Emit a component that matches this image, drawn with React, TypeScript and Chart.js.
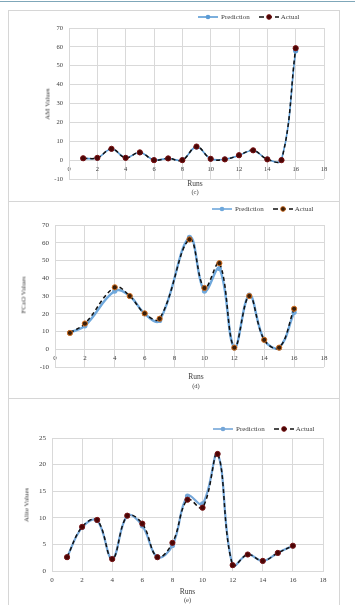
import React, { useEffect, useRef } from "react";
import { Chart, registerables } from "chart.js";

Chart.register(...registerables);

// ---------- data ----------
const runsAM = [1, 2, 3, 4, 5, 6, 7, 8, 9, 10, 11, 12, 13, 14, 15, 16];
const amPrediction = [0.9, 1.1, 5.9, 1.3, 4.0, 0.1, 0.9, 0.1, 7.0, 0.7, 0.5, 2.5, 5.1, 0.5, 0.1, 58.0];
const amActual = [1.0, 1.2, 6.0, 1.2, 4.1, 0.0, 0.9, 0.0, 7.2, 0.7, 0.4, 2.6, 5.2, 0.4, 0.0, 59.3];

const runsFCaO = [1, 2, 4, 5, 6, 7, 9, 10, 11, 12, 13, 14, 15, 16];
const fcaoPrediction = [9.4, 13.2, 32.8, 30.0, 20.0, 16.2, 63.0, 32.8, 45.5, 0.9, 30.5, 5.3, 0.9, 20.8];
const fcaoActual = [9.2, 14.5, 34.9, 30.0, 20.2, 17.2, 61.9, 34.5, 48.5, 0.9, 30.0, 5.3, 0.9, 22.8];

const runsAlite = [1, 2, 3, 4, 5, 6, 7, 8, 9, 10, 11, 12, 13, 14, 15, 16];
const alitePrediction = [2.6, 8.2, 9.5, 2.3, 10.4, 8.5, 2.6, 4.8, 14.1, 12.6, 22.0, 1.1, 3.1, 1.9, 3.4, 4.75];
const aliteActual = [2.6, 8.3, 9.6, 2.25, 10.4, 8.9, 2.6, 5.3, 13.4, 11.9, 22.0, 1.1, 3.1, 1.9, 3.4, 4.75];

const xMin = 0;
const xMax = 18;
const xStep = 2;

const seriesLabels = ["Prediction", "Actual"];

const FONT = "'Liberation Serif', 'Times New Roman', serif";
const GRID = "#d9d9d9";
const TEXT = "#404040";

type ChartCfg = {
  runs: number[];
  pred: number[];
  actual: number[];
  yMin: number;
  yMax: number;
  yStep: number;
  width: number;
  height: number;
  yWidth: number;
  pad: { left: number; right: number; top: number; bottom: number };
  predColor: string;
  predWidth: number;
  markerFill: string;
  markerBorder: string;
  tickSize: number;
};

function LineChart({ cfg, style }: { cfg: ChartCfg; style: React.CSSProperties }) {
  const ref = useRef<HTMLCanvasElement | null>(null);
  useEffect(() => {
    if (!ref.current) return;
    const toPts = (vals: number[]) => cfg.runs.map((r, i) => ({ x: r, y: vals[i] }));
    const chart = new Chart(ref.current, {
      type: "line",
      data: {
        datasets: [
          {
            label: seriesLabels[0],
            data: toPts(cfg.pred),
            borderColor: cfg.predColor,
            backgroundColor: cfg.predColor,
            borderWidth: cfg.predWidth,
            pointRadius: 2.6,
            pointBorderWidth: 0,
            pointBackgroundColor: cfg.predColor,
            tension: 0.4,
            order: 2,
          },
          {
            label: seriesLabels[1],
            data: toPts(cfg.actual),
            borderColor: "#111111",
            backgroundColor: cfg.markerFill,
            borderWidth: 1.5,
            borderDash: [4, 3],
            pointRadius: 2.6,
            pointBorderWidth: 1,
            pointBackgroundColor: cfg.markerFill,
            pointBorderColor: cfg.markerBorder,
            tension: 0.4,
            order: 1,
          },
        ],
      },
      options: {
        responsive: false,
        animation: false,
        devicePixelRatio: 1,
        layout: { padding: cfg.pad },
        plugins: { legend: { display: false }, tooltip: { enabled: false } },
        scales: {
          x: {
            type: "linear",
            position: { y: 0 } as any,
            min: xMin,
            max: xMax,
            afterFit: (s: any) => {
              s.height = 0;
            },
            ticks: {
              stepSize: xStep,
              autoSkip: false,
              maxRotation: 0,
              minRotation: 0,
              padding: 5,
              color: TEXT,
              font: { family: FONT, size: cfg.tickSize },
            },
            grid: { color: GRID, lineWidth: 1, drawTicks: false },
            border: { color: GRID, width: 1 },
          },
          y: {
            type: "linear",
            min: cfg.yMin,
            max: cfg.yMax,
            afterFit: (s: any) => {
              s.width = cfg.yWidth;
            },
            ticks: {
              stepSize: cfg.yStep,
              padding: 6,
              color: TEXT,
              font: { family: FONT, size: cfg.tickSize },
            },
            grid: { color: GRID, lineWidth: 1, drawTicks: false },
            border: { color: GRID, width: 1 },
          },
        },
      },
    });
    return () => chart.destroy();
  }, [cfg]);
  return <canvas ref={ref} width={cfg.width} height={cfg.height} style={{ position: "absolute", display: "block", ...style }} />;
}

function Legend({ left, top, predColor, markerFill, markerBorder, dashColor }: any) {
  return (
    <div
      style={{
        position: "absolute",
        left,
        top,
        transform: "translateY(-50%)",
        display: "flex",
        alignItems: "center",
        fontFamily: FONT,
        fontSize: 7,
        color: TEXT,
        whiteSpace: "nowrap",
        lineHeight: "8px",
      }}
    >
      <svg width={20} height={6} style={{ display: "block" }}>
        <line x1={0} y1={3} x2={20} y2={3} stroke={predColor} strokeWidth={1.6} />
        <circle cx={10} cy={3} r={2.3} fill={predColor} />
      </svg>
      <span style={{ marginLeft: 3 }}>{seriesLabels[0]}</span>
      <svg width={20} height={6} style={{ display: "block", marginLeft: 9 }}>
        <line x1={0} y1={3} x2={20} y2={3} stroke={dashColor} strokeWidth={1.5} strokeDasharray="5 3" />
        <circle cx={10} cy={3} r={2.4} fill={markerFill} stroke={markerBorder} strokeWidth={0.8} />
      </svg>
      <span style={{ marginLeft: 2 }}>{seriesLabels[1]}</span>
    </div>
  );
}

function Txt({ x, y, size, children, rotate }: any) {
  return (
    <div
      style={{
        position: "absolute",
        left: x,
        top: y,
        transform: `translate(-50%, -50%)${rotate ? " rotate(-90deg)" : ""}`,
        fontFamily: FONT,
        fontSize: size,
        color: TEXT,
        whiteSpace: "nowrap",
        lineHeight: 1,
      }}
    >
      {children}
    </div>
  );
}

const cfgAM: ChartCfg = {
  runs: runsAM,
  pred: amPrediction,
  actual: amActual,
  yMin: -10,
  yMax: 70,
  yStep: 10,
  width: 330,
  height: 190,
  yWidth: 60,
  pad: { left: 0, right: 15, top: 17, bottom: 22 },
  predColor: "#5b9bd5",
  predWidth: 1.6,
  markerFill: "#4a0606",
  markerBorder: "#7a1010",
  tickSize: 6.5,
};

const cfgFCaO: ChartCfg = {
  runs: runsFCaO,
  pred: fcaoPrediction,
  actual: fcaoActual,
  yMin: -10,
  yMax: 70,
  yStep: 10,
  width: 330,
  height: 196,
  yWidth: 46,
  pad: { left: 0, right: 15, top: 23, bottom: 31 },
  predColor: "#6fa8dc",
  predWidth: 2.4,
  markerFill: "#3b1e08",
  markerBorder: "#d46f1e",
  tickSize: 7,
};

const cfgAlite: ChartCfg = {
  runs: runsAlite,
  pred: alitePrediction,
  actual: aliteActual,
  yMin: 0,
  yMax: 25,
  yStep: 5,
  width: 330,
  height: 206,
  yWidth: 43,
  pad: { left: 0, right: 16, top: 39, bottom: 34 },
  predColor: "#74a6d8",
  predWidth: 2.2,
  markerFill: "#4a0505",
  markerBorder: "#7a1515",
  tickSize: 7,
};

const panelStyle = (top: number, height: number): React.CSSProperties => ({
  position: "absolute",
  left: 8,
  top,
  width: 332,
  height,
  boxSizing: "border-box",
  border: "1px solid #d6d6d6",
});

export default function App() {
  return (
    <div style={{ position: "absolute", left: 0, top: 0, width: 355, height: 605, overflow: "hidden", background: "#ffffff" }}>
      <div style={{ position: "absolute", left: 0, top: 1, width: 355, height: 1, background: "#7fa7b9" }} />

      {/* Panel (c) */}
      <div style={panelStyle(10, 192)} />
      <LineChart cfg={cfgAM} style={{ left: 9, top: 11 }} />
      <Legend left={198} top={17} predColor={cfgAM.predColor} markerFill={cfgAM.markerFill} markerBorder={cfgAM.markerBorder} dashColor="#111" />
      <Txt x={48} y={103.5} size={7} rotate>AM Values</Txt>
      <Txt x={195} y={184} size={7.5}>Runs</Txt>
      <Txt x={195} y={192} size={6.5}>(c)</Txt>

      {/* Panel (d) */}
      <div style={panelStyle(201, 198)} />
      <LineChart cfg={cfgFCaO} style={{ left: 9, top: 202 }} />
      <Legend left={212} top={209} predColor={cfgFCaO.predColor} markerFill={cfgFCaO.markerFill} markerBorder={cfgFCaO.markerBorder} dashColor="#111" />
      <Txt x={24} y={295} size={7} rotate>FCaO Values</Txt>
      <Txt x={196} y={377} size={7.5}>Runs</Txt>
      <Txt x={196} y={385.5} size={6.5}>(d)</Txt>

      {/* Panel (e) */}
      <div style={panelStyle(398, 212)} />
      <LineChart cfg={cfgAlite} style={{ left: 9, top: 399 }} />
      <Legend left={213} top={429} predColor={cfgAlite.predColor} markerFill={cfgAlite.markerFill} markerBorder={cfgAlite.markerBorder} dashColor="#111" />
      <Txt x={27} y={505} size={7} rotate>Alite Values</Txt>
      <Txt x={187.5} y={592} size={7.5}>Runs</Txt>
      <Txt x={187.5} y={599.5} size={6.5}>(e)</Txt>
    </div>
  );
}
